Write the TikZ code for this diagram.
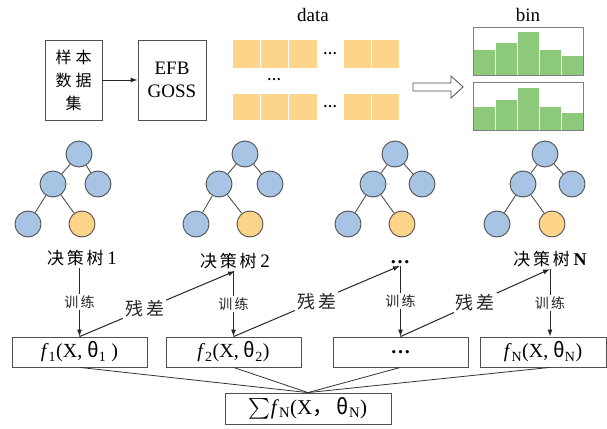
\documentclass[tikz,border=0pt]{standalone}
\usepackage{amsmath}
\usepackage{fontspec}
\setmainfont{Liberation Serif}
\newfontfamily\cjk{Noto Sans CJK SC}
\usetikzlibrary{positioning,calc,arrows.meta}
\definecolor{nodeblue}{RGB}{168,196,228}
\definecolor{nodeyellow}{RGB}{253,213,138}
\definecolor{bargreen}{RGB}{141,201,122}
\definecolor{linegray}{RGB}{80,80,80}

\begin{document}
\begin{tikzpicture}[x=1pt,y=-1pt,
    tn/.style={circle,draw=linegray,fill=nodeblue,minimum size=26pt,inner sep=0pt,line width=0.9pt},
    tl/.style={tn,fill=nodeyellow},
    box/.style={draw=linegray,line width=0.8pt,inner sep=0pt},
    lab/.style={inner sep=2pt,font={\cjk\fontsize{17}{19}\selectfont}},
    train/.style={fill=white,inner sep=1.5pt,font={\cjk\fontsize{14}{16}\selectfont}},
    resid/.style={fill=white,inner sep=2pt,font={\cjk\fontsize{18}{20}\selectfont}},
    arr/.style={-{Latex[length=7pt,width=5pt]},line width=1pt,color=black!85},
    cell/.style={fill=nodeyellow,draw=white,line width=1pt},
    bar/.style={fill=bargreen,draw=white,line width=1pt},
    dots/.style={inner sep=0pt,font={\bfseries\fontsize{14}{14}\selectfont}},
    fbox/.style={box,minimum height=30pt,font={\fontsize{20}{22}\selectfont}}]
    \useasboundingbox (0,0) rectangle (607,428);

    % input and preprocessing
    \node[box,minimum width=57pt,minimum height=80pt,align=center,
      font={\cjk\fontsize{16}{23}\selectfont}] (sample) at (73.5,80) {样\hspace{4pt}本\\数\hspace{4pt}据\\集};
    \node[box,minimum width=68pt,minimum height=80pt,align=center,
      font={\fontsize{19}{23}\selectfont}] (efb) at (172,80) {EFB\\GOSS};
    \draw[arr] (sample) -- (efb);

    % data
    \node[font={\fontsize{19}{20}\selectfont}] (data) at (313,15) {data};
    \filldraw[cell] (232,40) rectangle (260,68);
    \filldraw[cell] (260,40) rectangle (288,68);
    \filldraw[cell] (288,40) rectangle (317,68);
    \filldraw[cell] (343,40) rectangle (371,68);
    \filldraw[cell] (371,40) rectangle (399,68);
    \filldraw[cell] (232,93) rectangle (260,120);
    \filldraw[cell] (260,93) rectangle (288,120);
    \filldraw[cell] (288,93) rectangle (317,120);
    \filldraw[cell] (343,93) rectangle (371,120);
    \filldraw[cell] (371,93) rectangle (399,120);
    \node[dots] (d1) at (330,54) {…};
    \node[dots] (d2) at (274,80) {…};
    \node[dots] (d3) at (330,107) {…};

    \draw[linegray,line width=0.8pt,fill=white] (413,83) -- (451,83) -- (451,76) -- (463,87)
      -- (451,98) -- (451,91) -- (413,91) -- cycle;

    % bin
    \node[font={\fontsize{19}{20}\selectfont}] (bin) at (528,15) {bin};
    \filldraw[bar] (473,50) rectangle (495,75);
    \filldraw[bar] (495,43) rectangle (517,75);
    \filldraw[bar] (517,32) rectangle (539,75);
    \filldraw[bar] (539,50) rectangle (561,75);
    \filldraw[bar] (561,56) rectangle (583,75);
    \draw[gray,line width=0.8pt] (473,27) rectangle (583,75);
    \filldraw[bar] (473,106) rectangle (495,130);
    \filldraw[bar] (495,99) rectangle (517,130);
    \filldraw[bar] (517,87) rectangle (539,130);
    \filldraw[bar] (539,106) rectangle (561,130);
    \filldraw[bar] (561,112) rectangle (583,130);
    \draw[gray,line width=0.8pt] (473,82) rectangle (583,130);

    % trees
    \node[tn] (t1r) at (79,154) {};
    \node[tn] (t1a) at (53,184) {};
    \node[tn] (t1b) at (98,184) {};
    \node[tn] (t1c) at (28,224) {};
    \node[tl] (t1d) at (82,224) {};
    \node[tn] (t2r) at (245,154) {};
    \node[tn] (t2a) at (219,184) {};
    \node[tn] (t2b) at (270,184) {};
    \node[tn] (t2c) at (196,224) {};
    \node[tl] (t2d) at (250,224) {};
    \node[tn] (t3r) at (395,154) {};
    \node[tn] (t3a) at (373,184) {};
    \node[tn] (t3b) at (422,184) {};
    \node[tn] (t3c) at (348,224) {};
    \node[tl] (t3d) at (402,224) {};
    \node[tn] (t4r) at (545,154) {};
    \node[tn] (t4a) at (523,184) {};
    \node[tn] (t4b) at (572,184) {};
    \node[tn] (t4c) at (497,224) {};
    \node[tl] (t4d) at (552,224) {};
    \draw[linegray,line width=0.9pt] (t1r) -- (t1a) (t1r) -- (t1b) (t1a) -- (t1c) (t1a) -- (t1d);
    \draw[linegray,line width=0.9pt] (t2r) -- (t2a) (t2r) -- (t2b) (t2a) -- (t2c) (t2a) -- (t2d);
    \draw[linegray,line width=0.9pt] (t3r) -- (t3a) (t3r) -- (t3b) (t3a) -- (t3c) (t3a) -- (t3d);
    \draw[linegray,line width=0.9pt] (t4r) -- (t4a) (t4r) -- (t4b) (t4a) -- (t4c) (t4a) -- (t4d);

    \node[lab] (lab1) at (82,258) {决\,策\,树\ {\rmfamily\fontsize{19}{19}\selectfont 1}};
    \node[lab] (lab2) at (235,261) {决\,策\,树\ {\rmfamily\fontsize{19}{19}\selectfont 2}};
    \node[dots,inner sep=2pt,font={\bfseries\fontsize{20}{20}\selectfont}] (lab3) at (400,262) {…};
    \node[lab] (lab4) at (550,259) {决\,策\,树\ {\rmfamily\bfseries\fontsize{18}{18}\selectfont N}};

    % weak learners
    \node[fbox,minimum width=135pt] (f1) at (79.5,352)
      {\textit{f}\textsubscript{1}(X,\ {\cjk θ}\textsubscript{1} )};
    \node[fbox,minimum width=135pt] (f2) at (233.5,352)
      {\textit{f}\textsubscript{2}(X,\ {\cjk θ}\textsubscript{2})};
    \node[fbox,minimum width=135pt,font={\bfseries\fontsize{20}{20}\selectfont}] (f3) at (400.5,352) {…};
    \node[fbox,minimum width=126pt] (f4) at (543,352)
      {\textit{f}\textsubscript{N}(X,\ {\cjk θ}\textsubscript{N})};
    \node[box,minimum width=166pt,minimum height=31pt,font={\fontsize{21}{23}\selectfont}] (sum) at (308,408.5)
      {$\sum$\textit{f}\textsubscript{N}(X{\cjk ，}\,{\cjk θ}\textsubscript{N})};

    \draw[arr] (lab1.south -| f1.north) -- node[train] {训\,练} (f1.north);
    \draw[arr] (lab2.south -| f2.north) -- node[train] {训\,练} (f2.north);
    \draw[arr] (lab3.south -| f3.north) -- node[train] {训\,练} (f3.north);
    \draw[arr] (lab4.south) -- node[train] {训\,练} (lab4.south |- f4.north);

    \draw[arr] (f1.north) -- node[resid,pos=0.42] {残\,差} (lab2.south);
    \draw[arr] (f2.north) -- node[resid] {残\,差} (lab3.south);
    \draw[arr] (f3.north) -- node[resid] {残\,差} (lab4.south);

    \draw[line width=0.8pt,color=black!80] (f1.south) -- (sum.north);
    \draw[line width=0.8pt,color=black!80] (f2.south) -- (sum.north);
    \draw[line width=0.8pt,color=black!80] (f3.south) -- (sum.north);
    \draw[line width=0.8pt,color=black!80] (lab4.south |- f4.south) -- (sum.north);
\end{tikzpicture}
\end{document}
